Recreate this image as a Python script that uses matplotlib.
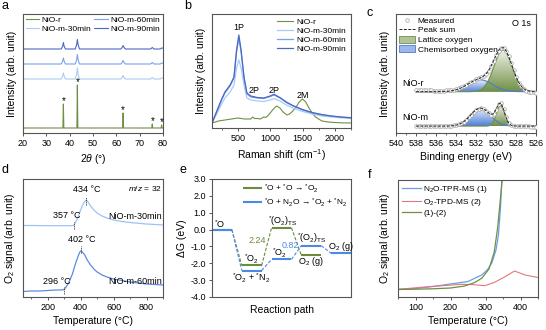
import numpy as np
import matplotlib
matplotlib.use('Agg')
import matplotlib.pyplot as plt
from matplotlib.colors import LinearSegmentedColormap
from matplotlib.lines import Line2D
from matplotlib.patches import Patch
from matplotlib.ticker import MultipleLocator

plt.rcParams['font.family'] = ['Liberation Sans', 'DejaVu Sans']
plt.rcParams['mathtext.fontset'] = 'custom'
plt.rcParams['mathtext.rm'] = 'Liberation Sans'
plt.rcParams['mathtext.it'] = 'Liberation Sans:italic'
plt.rcParams['mathtext.bf'] = 'Liberation Sans:bold'
plt.rcParams['axes.unicode_minus'] = False
plt.rcParams['font.size'] = 6.5
plt.rcParams['axes.linewidth'] = 0.8
plt.rcParams['axes.edgecolor'] = '#555555'
for k in ['xtick', 'ytick']:
    plt.rcParams[k + '.color'] = '#555555'
    plt.rcParams[k + '.labelcolor'] = 'black'
    plt.rcParams[k + '.major.size'] = 2.5
    plt.rcParams[k + '.minor.size'] = 1.5
    plt.rcParams[k + '.major.width'] = 0.7
    plt.rcParams[k + '.minor.width'] = 0.6
    plt.rcParams[k + '.labelsize'] = 6.5
    plt.rcParams[k + '.major.pad'] = 2

GREEN = '#6f8f45'
C30 = '#a9cbf4'
C60 = '#77a3ea'
C90 = '#4d68c4'

# ---- a: XRD ----
xrd_r_x = [20, 37.1, 37.3, 37.5, 43.1, 43.3, 43.5, 62.7, 62.9, 63.1, 75.2, 75.4, 75.6, 79.2, 79.4, 79.6, 80]
xrd_r = [0, 0, 24, 0, 0, 43, 0, 0, 15, 0, 0, 4, 0, 0, 3, 0, 0]
xrd_m_x = [20, 36.4, 37.0, 37.3, 37.6, 38.2, 42.4, 43.0, 43.3, 43.6, 44.2, 62.0, 62.6, 62.9,
           63.2, 63.8, 74.7, 75.4, 76.1, 78.8, 79.4, 80]
xrd_30 = [0, 0, 3, 6, 3, 0, 0, 5, 11, 5, 0, 0, 2, 3.5, 2, 0, 0, 1.5, 0, 0, 1, 0.8]
xrd_60 = [0, 0, 3, 6, 3, 0, 0, 4.5, 9.5, 4.5, 0, 0, 2, 3.5, 2, 0, 0, 1.5, 0, 0, 1, 0.8]
xrd_90 = [0, 0, 3, 6.5, 3, 0, 0, 4.5, 9.5, 4.5, 0, 0, 2, 3.5, 2, 0, 0, 1.5, 0, 0, 1, 0.8]

# ---- b: Raman ----
raman_r_x = [100, 200, 300, 400, 500, 600, 700, 730, 760, 800, 850, 900, 930, 960, 1000, 1050, 1100,
             1150, 1200, 1260, 1300, 1350, 1400, 1450, 1500, 1550, 1600, 1650, 1700, 1800, 1900,
             2000, 2100, 2250]
raman_r = [5, 7, 8, 9, 10, 9, 9, 11, 9.5, 9.5, 9, 11, 10.5, 12, 15, 19, 22, 20, 16, 13, 14, 17, 21,
           26, 29, 26, 20, 15, 11, 7, 6, 5.5, 5.2, 5]
raman_m_x = [100, 180, 250, 300, 380, 440, 480, 515, 550, 595, 640, 700, 800, 900, 1000, 1060,
             1150, 1250, 1350, 1500, 1650, 1800, 1950, 2100, 2250]
raman_90 = [5, 18, 29, 36, 43, 51, 78, 93, 78, 51, 35, 32, 30.5, 30, 32, 33.7, 30.5, 26, 22.5,
            18.5, 15.5, 13.5, 12, 11, 10.3]
raman_60 = [5, 17, 28, 35, 42, 50, 76, 90, 76, 50, 34, 31, 30, 29.5, 31.5, 33, 30, 25.5, 22, 18,
            15, 13, 11.8, 10.8, 10]
raman_30 = [5, 15, 24, 30, 36, 43, 60, 68, 60, 43, 30, 28, 27, 26.5, 28, 29.5, 27, 23, 20, 16.5,
            14, 12, 11, 10.2, 9.7]
raman_marks = ['1P', '2P', '2P', '2M']
raman_mark_x = [510, 750, 1065, 1505]
raman_mark_y = [100, 38, 38, 33]

# ---- c: XPS O 1s ----
xps_be = np.linspace(538, 526, 49)
xps_r_meas = [42.9, 42.8, 42.8, 42.7, 42.7, 42.6, 42.6, 42.5, 42.5, 42.5, 42.5, 42.5, 42.6, 42.8,
              43.0, 43.5, 44.0, 44.8, 45.8, 47.0, 48.3, 49.8, 51.2, 52.5, 53.6, 54.6, 55.7, 57.1,
              59.3, 62.5, 66.9, 72.2, 77.6, 82.4, 85.1, 85.2, 82.2, 76.9, 69.9, 62.6, 55.9, 50.5,
              46.6, 43.9, 42.3, 41.5, 40.9, 40.7, 40.5]
xps_r_chem = [0.0] * 9 + [0.1, 0.1, 0.2, 0.3, 0.5, 0.8, 1.3, 1.9, 2.7, 3.8, 5.0, 6.4, 7.9, 9.3, 10.5,
                          11.4, 11.9, 12.0, 11.5, 10.7, 9.5, 8.2, 6.7, 5.3, 4.0, 2.9, 2.1, 1.4, 0.9,
                          0.6, 0.3, 0.2, 0.1, 0.1] + [0.0] * 6
xps_r_latt = [0.0] * 22 + [0.1, 0.2, 0.5, 1.0, 2.1, 4.0, 7.1, 11.5, 17.3, 24.1, 31.0, 37.1, 41.0,
                           41.9, 39.7, 34.9, 28.3, 21.3, 14.8, 9.5, 5.7, 3.1, 1.6, 0.8, 0.3, 0.1, 0.1]
xps_m_meas = [7.5, 7.4, 7.4, 7.4, 7.4, 7.3, 7.3, 7.3, 7.3, 7.2, 7.2, 7.2, 7.2, 7.2, 7.3, 7.6, 8.0,
              8.7, 9.7, 11.2, 13.3, 15.8, 18.5, 21.0, 23.2, 24.5, 24.9, 24.1, 22.4, 20.1, 18.5,
              19.0, 23.4, 28.9, 29.8, 23.9, 15.6, 9.9, 7.6, 6.9, 6.7, 6.6, 6.6, 6.6, 6.6, 6.6,
              6.5, 6.5, 6.5]
xps_m_chem = [0.0] * 13 + [0.1, 0.2, 0.5, 0.9, 1.6, 2.7, 4.2, 6.3, 8.8, 11.5, 14.1, 16.3, 17.6, 18.0,
                           17.2, 15.5, 13.1, 10.4, 7.7, 5.4, 3.6, 2.2, 1.3, 0.7, 0.4, 0.2, 0.1] + [0.0] * 9
xps_m_latt = [0.0] * 29 + [0.2, 1.3, 4.5, 11.2, 18.5, 20.8, 15.9, 8.2, 2.8, 0.7, 0.1] + [0.0] * 9

# ---- d: O2-TPD ----
tpd30_t = [50, 100, 200, 300, 340, 357, 370, 385, 400, 415, 425, 434, 445, 460, 480, 500, 530, 560,
           600, 650, 700, 800, 900]
tpd30 = [71.5, 71.5, 71.3, 71.3, 71.3, 71.5, 75, 80, 87, 93, 95.5, 97, 95, 91, 87, 84, 81, 79, 77,
         75.5, 74.5, 73, 72]
tpd60_t = [50, 100, 150, 200, 250, 280, 296, 310, 330, 350, 370, 385, 395, 402, 410, 425, 440, 460,
           480, 500, 530, 560, 600, 650, 700, 800, 900]
tpd60 = [5.5, 6, 6, 6.5, 7, 7, 7.3, 9.5, 15, 23, 34, 41, 45, 46, 45, 42, 37, 32, 28, 25, 22, 20, 18,
         16.5, 15, 13, 12]

# ---- e: free energy diagram ----
dg_green = [0.0, -2.13, 0.11, -1.53]
dg_blue = [0.0, -2.43, -1.77, -0.95, -1.41]

# ---- f: TPR / TPD ----
tpr_t = [50, 100, 150, 200, 250, 289, 305, 318, 330, 337, 343, 347]
tpr = [7.5, 8.5, 10.5, 13, 15.5, 22, 27, 34, 47, 62, 90, 120]
tpdf_t = [50, 137, 232, 260, 298, 326, 356, 383, 413, 450]
tpdf = [7.7, 10.3, 12.7, 12.5, 11.3, 14.7, 20.3, 26, 22, 19.5]
diff_t = [50, 100, 150, 200, 240, 262, 272, 290, 310, 325, 335, 343, 350]
diff = [7.5, 7.8, 8.2, 9, 11, 13.5, 15, 19, 28, 45, 70, 100, 125]

W, H = 546, 330
fig = plt.figure(figsize=(W / 100, H / 100), dpi=100)


def box(l, t, r, b):
    return [l / W, 1 - b / H, (r - l) / W, (b - t) / H]


def gradient_fill(ax, x, base, top, c_top, c_bot):
    poly = ax.fill_between(x, base, top, facecolor='none', edgecolor='none')
    cmap = LinearSegmentedColormap.from_list('g', [c_bot, c_top])
    grad = np.linspace(0, 1, 64).reshape(-1, 1)
    img = ax.imshow(grad, extent=[min(x), max(x), base, max(top)], origin='lower',
                    aspect='auto', cmap=cmap, zorder=1)
    img.set_clip_path(poly.get_paths()[0], transform=ax.transData)


def letter(x, y, s):
    fig.text(x / W, 1 - y / H, s, fontsize=9, ha='center', va='center')


# panel a
ax = fig.add_axes(box(23, 14, 163, 133))
ax.plot(xrd_r_x, np.array(xrd_r) + 5, color=GREEN, lw=0.8, label='NiO-r')
ax.plot(xrd_m_x, np.array(xrd_30) + 54, color=C30, lw=0.8, label='NiO-m-30min')
ax.plot(xrd_m_x, np.array(xrd_60) + 69, color=C60, lw=0.8, label='NiO-m-60min')
ax.plot(xrd_m_x, np.array(xrd_90) + 84, color=C90, lw=0.8, label='NiO-m-90min')
for xx, yy in zip(xrd_r_x, xrd_r):
    if yy > 0:
        ax.text(xx, yy + 8, '*', ha='center', va='center', fontsize=7)
ax.set_xlim(20, 80)
ax.set_ylim(0, 119)
ax.set_xticks(range(20, 81, 10))
ax.set_yticks([])
ax.set_xlabel(r'2$\mathit{\theta}$ (°)', fontsize=7.5, labelpad=3)
ax.set_ylabel('Intensity (arb. unit)', fontsize=7.5, labelpad=4)
ax.legend(ncol=2, loc='upper left', bbox_to_anchor=(0.0, 1.0), frameon=False, fontsize=6,
          handlelength=1.6, handletextpad=0.3, columnspacing=0.4, labelspacing=0.1,
          borderpad=0.3, borderaxespad=0)
letter(5, 6, 'a')

# panel b
ax = fig.add_axes(box(212, 14, 351, 128))
ax.plot(raman_r_x, raman_r, color=GREEN, lw=0.8, label='NiO-r')
ax.plot(raman_m_x, raman_30, color=C30, lw=0.9, label='NiO-m-30min')
ax.plot(raman_m_x, raman_60, color=C60, lw=0.9, label='NiO-m-60min')
ax.plot(raman_m_x, raman_90, color=C90, lw=0.9, label='NiO-m-90min')
for s, xx, yy in zip(raman_marks, raman_mark_x, raman_mark_y):
    ax.text(xx, yy, s, ha='center', va='center', fontsize=6.5)
ax.set_xlim(100, 2250)
ax.set_ylim(0, 114)
ax.set_xticks([500, 1000, 1500, 2000])
ax.xaxis.set_minor_locator(MultipleLocator(250))
ax.set_yticks([])
ax.set_xlabel('Raman shift (cm$^{-1}$)', fontsize=7.5, labelpad=3)
ax.set_ylabel('Intensity (arb. unit)', fontsize=7.5, labelpad=4)
ax.legend(loc='upper right', bbox_to_anchor=(0.98, 0.98), frameon=False, fontsize=6,
          handlelength=2.0, handletextpad=0.4, labelspacing=0.15, borderpad=0.2,
          borderaxespad=0)
letter(188, 6, 'b')

# panel c
ax = fig.add_axes(box(396, 14, 536, 133))
LGREEN, LBLUE = '#6f8f45', '#4a7bd6'
for meas, chem, latt, off in [(xps_r_meas, xps_r_chem, xps_r_latt, 41.3),
                              (xps_m_meas, xps_m_chem, xps_m_latt, 6.9)]:
    chem_y = np.array(chem) + off
    latt_y = np.array(latt) + off
    gradient_fill(ax, xps_be, off, chem_y, '#e9effb', '#4f7fd8')
    gradient_fill(ax, xps_be, off, latt_y, '#eef1e6', '#6f8f45')
    ax.plot(xps_be, chem_y, color=LBLUE, lw=0.8, zorder=3)
    ax.plot(xps_be, latt_y, color=LGREEN, lw=0.8, zorder=3)
    ax.plot(xps_be, meas, ls='none', marker='o', ms=2.6, mfc='white', mec='#a0a0a0', mew=0.5,
            zorder=4)
    ax.plot(xps_be, np.array(chem) + np.array(latt) + off, color='#222222', lw=0.7,
            ls=(0, (3, 1.5)), zorder=5)
ax.text(539.4, 50, 'NiO-r', ha='left', va='center', fontsize=6.5)
ax.text(539.4, 15, 'NiO-m', ha='left', va='center', fontsize=6.5)
ax.text(526.5, 110, 'O 1s', ha='right', va='center', fontsize=6.5)
ax.set_xlim(540, 526)
ax.set_ylim(0, 119)
ax.set_xticks(range(540, 525, -2))
ax.xaxis.set_minor_locator(MultipleLocator(1))
ax.set_yticks([])
ax.set_xlabel('Binding energy (eV)', fontsize=7.5, labelpad=3)
ax.set_ylabel('Intensity (arb. unit)', fontsize=7.5, labelpad=4)
handles = [Line2D([], [], ls='none', marker='o', ms=2.6, mfc='white', mec='#a0a0a0', mew=0.5),
           Line2D([], [], color='#222222', lw=0.7, ls=(0, (3, 1.5))),
           Patch(facecolor='#b3c29c', edgecolor=LGREEN, lw=0.6),
           Patch(facecolor='#9db7ea', edgecolor=LBLUE, lw=0.6)]
ax.legend(handles, ['Measured', 'Peak sum', 'Lattice oxygen', 'Chemisorbed oxygen'],
          loc='upper left', bbox_to_anchor=(0.0, 1.0), frameon=False, fontsize=6,
          handlelength=2.0, handleheight=0.9, handletextpad=0.3, labelspacing=0.15,
          borderpad=0.3, borderaxespad=0)
letter(370, 13, 'c')

# panel d
ax = fig.add_axes(box(23, 179, 163, 297))
D30, D60 = '#9ec3f2', '#5b8be0'
ax.plot(tpd30_t, tpd30, color=D30, lw=0.9)
ax.plot(tpd60_t, tpd60, color=D60, lw=0.9)
for xx, y0, y1 in [(357, 68.5, 75), (434, 92, 100), (296, 3.5, 10), (402, 44, 51)]:
    ax.plot([xx, xx], [y0, y1], color='#333333', lw=0.6, ls=(0, (1.5, 1)))
ax.text(315, 82, '357 °C', ha='center', va='center', fontsize=6.5)
ax.text(437, 107, '434 °C', ha='center', va='center', fontsize=6.5)
ax.text(406, 57, '402 °C', ha='center', va='center', fontsize=6.5)
ax.text(258, 16, '296 °C', ha='center', va='center', fontsize=6.5)
ax.text(893, 80.5, 'NiO-m-30min', ha='right', va='center', fontsize=6.5)
ax.text(893, 15, 'NiO-m-60min', ha='right', va='center', fontsize=6.5)
ax.text(893, 108.5, r'$\mathit{m/z}$ = 32', ha='right', va='center', fontsize=6)
ax.set_xlim(50, 900)
ax.set_ylim(0, 118)
ax.set_xticks([200, 400, 600, 800])
ax.xaxis.set_minor_locator(MultipleLocator(100))
ax.set_yticks([])
ax.set_xlabel('Temperature (°C)', fontsize=7.5, labelpad=3)
ax.set_ylabel('O$_2$ signal (arb. unit)', fontsize=7.5, labelpad=4)
letter(5, 170, 'd')

# panel e
ax = fig.add_axes(box(212, 179, 351, 297))
EG, EB = '#6b8c3e', '#4a8ae6'
dash = (0, (3, 1.5))
for levels, col in [(dg_green, EG), (dg_blue, EB)]:
    for i, g in enumerate(levels):
        ax.plot([1.5 * i, 1.5 * i + 1], [g, g], color=col, lw=1.5, solid_capstyle='butt')
        if i + 1 < len(levels):
            ax.plot([1.5 * i + 1, 1.5 * (i + 1)], [g, levels[i + 1]], color=col, lw=0.8, ls=dash)
ax.text(0.4, 0.35, r'$^{*}$O', ha='center', va='center', fontsize=6.5)
ax.text(2.0, -1.77, r'$^{*}$O$_2$', ha='center', va='center', fontsize=6.5)
ax.text(2.0, -2.88, r'$^{*}$O$_2$ + $^{*}$N$_2$', ha='center', va='center', fontsize=6.5)
ax.text(3.55, 0.5, r'$^{*}$(O$_2$)$_{\rm TS}$', ha='center', va='center', fontsize=6.5)
ax.text(2.28, -0.62, '2.24', ha='center', va='center', fontsize=6.5, color=EG)
ax.text(3.4, -1.42, r'$^{*}$O$_2$', ha='center', va='center', fontsize=6.5)
ax.text(3.95, -0.93, '0.82', ha='center', va='center', fontsize=6.5, color=EB)
ax.text(5.0, -0.5, r'$^{*}$(O$_2$)$_{\rm TS}$', ha='center', va='center', fontsize=6.5)
ax.text(5.0, -1.87, 'O$_2$ (g)', ha='center', va='center', fontsize=6.5)
ax.text(6.5, -1.03, 'O$_2$ (g)', ha='center', va='center', fontsize=6.5)
ax.set_xlim(0, 7)
ax.set_ylim(-4, 3)
ax.set_xticks([])
ax.set_yticks(np.arange(-4, 3.1, 1))
ax.set_yticklabels(['%.1f' % v for v in np.arange(-4, 3.1, 1)])
ax.set_xlabel('Reaction path', fontsize=7.5, labelpad=6)
ax.set_ylabel('ΔG (eV)', fontsize=7.5, labelpad=2)
handles = [Line2D([], [], color=EG, lw=1.5), Line2D([], [], color=EB, lw=1.5)]
ax.legend(handles, [r'$^{*}$O + $^{*}$O → $^{*}$O$_2$',
                    r'$^{*}$O + N$_2$O → $^{*}$O$_2$ + $^{*}$N$_2$'],
          loc='upper right', bbox_to_anchor=(1.0, 1.0), frameon=False, fontsize=6,
          handlelength=2.0, handletextpad=0.4, labelspacing=0.2, borderpad=0.4,
          borderaxespad=0)
letter(183, 170, 'e')

# panel f
ax = fig.add_axes(box(398, 180, 538, 297))
ax.plot(tpr_t, tpr, color='#6c9de8', lw=0.9, label='N$_2$O-TPR-MS (1)')
ax.plot(tpdf_t, tpdf, color='#e47878', lw=0.8, label='O$_2$-TPD-MS (2)')
ax.plot(diff_t, diff, color=GREEN, lw=0.9, label='(1)-(2)')
ax.set_xlim(50, 450)
ax.set_ylim(0, 117)
ax.set_xticks([100, 200, 300, 400])
ax.xaxis.set_minor_locator(MultipleLocator(50))
ax.set_yticks([])
ax.set_xlabel('Temperature (°C)', fontsize=7.5, labelpad=3)
ax.set_ylabel('O$_2$ signal (arb. unit)', fontsize=7.5, labelpad=4)
ax.legend(loc='upper left', bbox_to_anchor=(0.0, 1.0), frameon=False, fontsize=6,
          handlelength=2.2, handletextpad=0.3, labelspacing=0.2, borderpad=0.5,
          borderaxespad=0)
letter(370, 175, 'f')

fig.savefig('out.png', dpi=100)
